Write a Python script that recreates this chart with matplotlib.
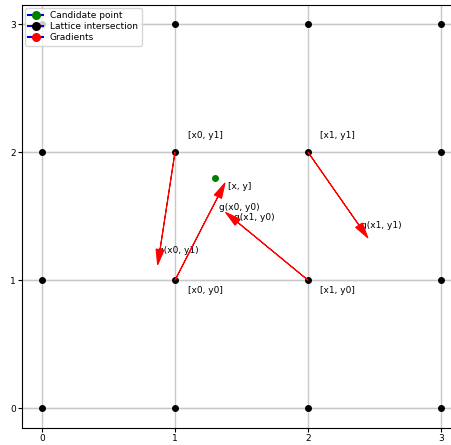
import numpy as np
import matplotlib
matplotlib.use('Agg')
import matplotlib.pyplot as plt
from matplotlib.lines import Line2D

# lattice
lattice_x = [0, 1, 2, 3]
lattice_y = [0, 1, 2, 3]

# candidate point
px, py = 1.3, 1.8

# corners and gradient vectors (dx, dy)
corner_x = [1, 1, 2, 2]
corner_y = [2, 1, 1, 2]
grad_dx = [-0.13, 0.376, -0.62, 0.45]
grad_dy = [-0.88, 0.76, 0.53, -0.67]
grad_names = ['g(x0, y1)', 'g(x0, y0)', 'g(x1, y0)', 'g(x1, y1)']
grad_label_x = [0.87, 1.33, 1.44, 2.40]
grad_label_y = [1.23, 1.57, 1.49, 1.43]

corner_names = ['[x0, y1]', '[x0, y0]', '[x1, y0]', '[x1, y1]']
corner_label_x = [1.10, 1.10, 2.09, 2.09]
corner_label_y = [2.13, 0.92, 0.92, 2.13]

fig = plt.figure(figsize=(4.51, 4.45), dpi=100)
ax = fig.add_axes([22/451, 17/445, 439/451, 423/445])

ax.grid(True, color='#c8c8c8', lw=1.0)
for yy in lattice_y:
    ax.axhline(yy, color='#888888', lw=0.8, zorder=1)

gx, gy = np.meshgrid(lattice_x, lattice_y)
ax.plot(gx.ravel(), gy.ravel(), 'o', color='k', ms=4, zorder=3)
ax.plot(px, py, 'o', color='g', ms=4, zorder=3)
ax.text(px + 0.1, py - 0.07, '[x, y]', fontsize=6.5, va='center')

for i in range(len(corner_x)):
    ax.arrow(corner_x[i], corner_y[i], grad_dx[i], grad_dy[i], color='r',
             head_width=0.06, head_length=0.12, length_includes_head=True,
             lw=0.8, zorder=4)
    ax.text(grad_label_x[i], grad_label_y[i], grad_names[i], fontsize=6.5, va='center')
    ax.text(corner_label_x[i], corner_label_y[i], corner_names[i], fontsize=6.5, va='center')

ax.set_xlim(-0.15, 3.15)
ax.set_ylim(-0.155, 3.15)
ax.set_xticks(lattice_x)
ax.set_yticks(lattice_y)
ax.tick_params(labelsize=6.5, length=3, pad=1.5)

handles = [
    Line2D([], [], color='b', marker='o', markerfacecolor='g', markeredgecolor='g', ms=5.5),
    Line2D([], [], color='b', marker='o', markerfacecolor='k', markeredgecolor='k', ms=5.5),
    Line2D([], [], color='b', marker='o', markerfacecolor='r', markeredgecolor='r', ms=5.5),
]
ax.legend(handles, ['Candidate point', 'Lattice intersection', 'Gradients'],
          loc='upper left', fontsize=6.5, handlelength=1.6,
          borderaxespad=0.3, labelspacing=0.2)

plt.savefig('out.png', dpi=100)
